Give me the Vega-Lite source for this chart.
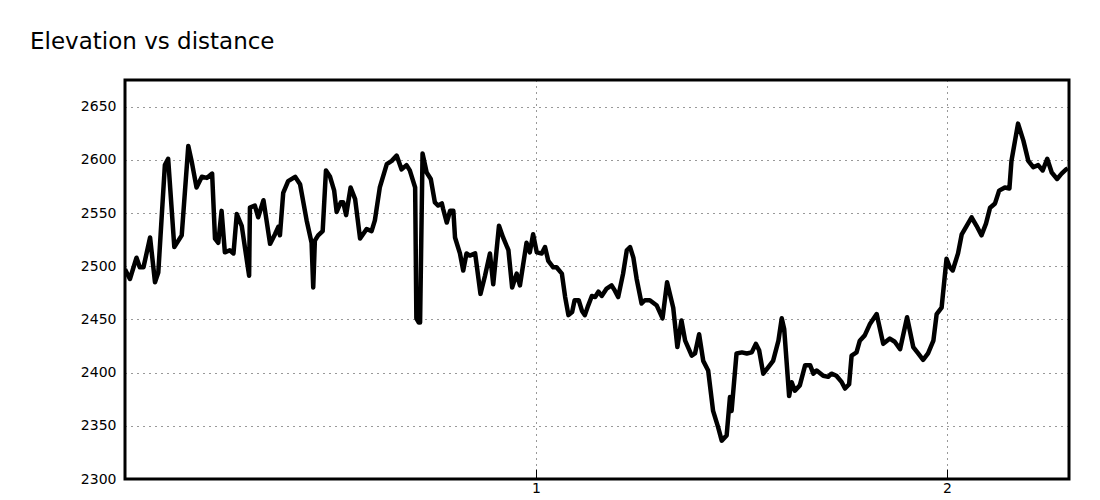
{
  "$schema": "https://vega.github.io/schema/vega-lite/v6.json",
  "autosize": "none",
  "width": 944,
  "height": 399,
  "padding": {"left": 125, "top": 80, "right": 31, "bottom": 21},
  "background": "white",
  "title": {
    "text": "Elevation vs distance",
    "anchor": "start",
    "frame": "group",
    "dx": -95,
    "offset": 8,
    "baseline": "alphabetic",
    "font": "DejaVu Sans",
    "fontSize": 23,
    "fontWeight": "normal",
    "color": "#000"
  },
  "config": {
    "view": {"stroke": "#000", "strokeWidth": 3},
    "axis": {
      "labelFont": "DejaVu Sans",
      "labelFontSize": 14,
      "labelColor": "#000",
      "domain": false,
      "gridColor": "#000",
      "gridDash": [1, 5],
      "gridWidth": 1,
      "gridOpacity": 0.8,
      "title": null
    }
  },
  "data": {
    "values": [
      {"d": 0.000, "e": 2497}, {"d": 0.012, "e": 2488}, {"d": 0.028, "e": 2508}, {"d": 0.036, "e": 2499},
      {"d": 0.045, "e": 2499}, {"d": 0.061, "e": 2527}, {"d": 0.073, "e": 2485}, {"d": 0.081, "e": 2494},
      {"d": 0.097, "e": 2595}, {"d": 0.105, "e": 2601}, {"d": 0.120, "e": 2518}, {"d": 0.138, "e": 2529},
      {"d": 0.154, "e": 2613}, {"d": 0.162, "e": 2599}, {"d": 0.174, "e": 2574}, {"d": 0.187, "e": 2584},
      {"d": 0.199, "e": 2583}, {"d": 0.212, "e": 2587}, {"d": 0.219, "e": 2526}, {"d": 0.227, "e": 2522},
      {"d": 0.235, "e": 2552}, {"d": 0.243, "e": 2513}, {"d": 0.255, "e": 2515}, {"d": 0.264, "e": 2512},
      {"d": 0.272, "e": 2549}, {"d": 0.284, "e": 2538}, {"d": 0.302, "e": 2491}, {"d": 0.304, "e": 2555},
      {"d": 0.316, "e": 2557}, {"d": 0.324, "e": 2546}, {"d": 0.337, "e": 2562}, {"d": 0.353, "e": 2521},
      {"d": 0.365, "e": 2530}, {"d": 0.373, "e": 2537}, {"d": 0.377, "e": 2529}, {"d": 0.385, "e": 2569},
      {"d": 0.397, "e": 2580}, {"d": 0.414, "e": 2584}, {"d": 0.426, "e": 2577}, {"d": 0.442, "e": 2543},
      {"d": 0.454, "e": 2522}, {"d": 0.458, "e": 2480}, {"d": 0.462, "e": 2524}, {"d": 0.470, "e": 2529},
      {"d": 0.481, "e": 2533}, {"d": 0.489, "e": 2590}, {"d": 0.499, "e": 2584}, {"d": 0.509, "e": 2571},
      {"d": 0.515, "e": 2551}, {"d": 0.525, "e": 2560}, {"d": 0.531, "e": 2560}, {"d": 0.538, "e": 2548},
      {"d": 0.549, "e": 2574}, {"d": 0.560, "e": 2563}, {"d": 0.572, "e": 2526}, {"d": 0.588, "e": 2535},
      {"d": 0.600, "e": 2533}, {"d": 0.608, "e": 2543}, {"d": 0.620, "e": 2574}, {"d": 0.637, "e": 2596},
      {"d": 0.649, "e": 2599}, {"d": 0.661, "e": 2604}, {"d": 0.673, "e": 2591}, {"d": 0.685, "e": 2595},
      {"d": 0.693, "e": 2590}, {"d": 0.706, "e": 2574}, {"d": 0.709, "e": 2451}, {"d": 0.715, "e": 2447},
      {"d": 0.718, "e": 2447}, {"d": 0.724, "e": 2606}, {"d": 0.734, "e": 2588}, {"d": 0.744, "e": 2582},
      {"d": 0.754, "e": 2560}, {"d": 0.762, "e": 2557}, {"d": 0.771, "e": 2559}, {"d": 0.774, "e": 2554},
      {"d": 0.783, "e": 2541}, {"d": 0.791, "e": 2552}, {"d": 0.799, "e": 2552}, {"d": 0.803, "e": 2527},
      {"d": 0.815, "e": 2512}, {"d": 0.823, "e": 2496}, {"d": 0.831, "e": 2512}, {"d": 0.839, "e": 2510},
      {"d": 0.852, "e": 2512}, {"d": 0.865, "e": 2474}, {"d": 0.876, "e": 2491}, {"d": 0.888, "e": 2512},
      {"d": 0.896, "e": 2483}, {"d": 0.910, "e": 2538}, {"d": 0.920, "e": 2527}, {"d": 0.933, "e": 2515},
      {"d": 0.942, "e": 2480}, {"d": 0.953, "e": 2493}, {"d": 0.961, "e": 2482}, {"d": 0.977, "e": 2522},
      {"d": 0.985, "e": 2513}, {"d": 0.993, "e": 2530}, {"d": 1.002, "e": 2513}, {"d": 1.014, "e": 2512},
      {"d": 1.022, "e": 2518}, {"d": 1.030, "e": 2505}, {"d": 1.042, "e": 2499}, {"d": 1.050, "e": 2499},
      {"d": 1.063, "e": 2493}, {"d": 1.071, "e": 2471}, {"d": 1.079, "e": 2454}, {"d": 1.088, "e": 2457},
      {"d": 1.094, "e": 2468}, {"d": 1.104, "e": 2468}, {"d": 1.112, "e": 2458}, {"d": 1.119, "e": 2454},
      {"d": 1.127, "e": 2463}, {"d": 1.136, "e": 2472}, {"d": 1.144, "e": 2471}, {"d": 1.152, "e": 2476},
      {"d": 1.160, "e": 2472}, {"d": 1.172, "e": 2479}, {"d": 1.184, "e": 2482}, {"d": 1.192, "e": 2477},
      {"d": 1.200, "e": 2471}, {"d": 1.212, "e": 2493}, {"d": 1.221, "e": 2515}, {"d": 1.229, "e": 2518},
      {"d": 1.237, "e": 2508}, {"d": 1.245, "e": 2488}, {"d": 1.257, "e": 2465}, {"d": 1.265, "e": 2468},
      {"d": 1.277, "e": 2468}, {"d": 1.294, "e": 2463}, {"d": 1.308, "e": 2451}, {"d": 1.319, "e": 2485},
      {"d": 1.334, "e": 2461}, {"d": 1.344, "e": 2424}, {"d": 1.354, "e": 2449}, {"d": 1.363, "e": 2430},
      {"d": 1.379, "e": 2416}, {"d": 1.387, "e": 2418}, {"d": 1.397, "e": 2436}, {"d": 1.407, "e": 2411},
      {"d": 1.419, "e": 2402}, {"d": 1.431, "e": 2364}, {"d": 1.443, "e": 2349}, {"d": 1.452, "e": 2336},
      {"d": 1.464, "e": 2341}, {"d": 1.472, "e": 2377}, {"d": 1.476, "e": 2364}, {"d": 1.488, "e": 2418},
      {"d": 1.501, "e": 2419}, {"d": 1.513, "e": 2418}, {"d": 1.525, "e": 2419}, {"d": 1.535, "e": 2427},
      {"d": 1.543, "e": 2421}, {"d": 1.553, "e": 2399}, {"d": 1.565, "e": 2405}, {"d": 1.577, "e": 2411},
      {"d": 1.590, "e": 2430}, {"d": 1.598, "e": 2451}, {"d": 1.604, "e": 2441}, {"d": 1.616, "e": 2378},
      {"d": 1.622, "e": 2391}, {"d": 1.630, "e": 2383}, {"d": 1.642, "e": 2388}, {"d": 1.655, "e": 2407},
      {"d": 1.667, "e": 2407}, {"d": 1.675, "e": 2399}, {"d": 1.683, "e": 2402}, {"d": 1.699, "e": 2397},
      {"d": 1.711, "e": 2396}, {"d": 1.719, "e": 2399}, {"d": 1.731, "e": 2397}, {"d": 1.744, "e": 2391},
      {"d": 1.752, "e": 2385}, {"d": 1.762, "e": 2389}, {"d": 1.768, "e": 2416}, {"d": 1.780, "e": 2419},
      {"d": 1.788, "e": 2430}, {"d": 1.800, "e": 2435}, {"d": 1.813, "e": 2446}, {"d": 1.829, "e": 2455},
      {"d": 1.845, "e": 2427}, {"d": 1.861, "e": 2432}, {"d": 1.873, "e": 2429}, {"d": 1.886, "e": 2422},
      {"d": 1.903, "e": 2452}, {"d": 1.918, "e": 2424}, {"d": 1.930, "e": 2418}, {"d": 1.942, "e": 2412},
      {"d": 1.954, "e": 2418}, {"d": 1.967, "e": 2430}, {"d": 1.975, "e": 2455}, {"d": 1.987, "e": 2461},
      {"d": 1.999, "e": 2507}, {"d": 2.007, "e": 2499}, {"d": 2.014, "e": 2496}, {"d": 2.027, "e": 2512},
      {"d": 2.036, "e": 2530}, {"d": 2.048, "e": 2538}, {"d": 2.060, "e": 2546}, {"d": 2.072, "e": 2538},
      {"d": 2.084, "e": 2529}, {"d": 2.095, "e": 2540}, {"d": 2.105, "e": 2555}, {"d": 2.117, "e": 2559},
      {"d": 2.127, "e": 2571}, {"d": 2.141, "e": 2574}, {"d": 2.152, "e": 2573}, {"d": 2.157, "e": 2599},
      {"d": 2.173, "e": 2634}, {"d": 2.186, "e": 2618}, {"d": 2.198, "e": 2599}, {"d": 2.210, "e": 2593},
      {"d": 2.222, "e": 2595}, {"d": 2.233, "e": 2590}, {"d": 2.244, "e": 2601}, {"d": 2.255, "e": 2588},
      {"d": 2.268, "e": 2582}, {"d": 2.279, "e": 2587}, {"d": 2.290, "e": 2591}, {"d": 2.294, "e": 2592}
    ]
  },
  "mark": {"type": "line", "color": "#000", "strokeWidth": 4.5, "strokeJoin": "round", "clip": true},
  "encoding": {
    "x": {
      "field": "d",
      "type": "quantitative",
      "scale": {"domain": [0, 2.297], "nice": false, "zero": false},
      "axis": {
        "values": [1, 2],
        "format": "d",
        "tickSize": -10,
        "tickColor": "#000",
        "tickWidth": 1,
        "labelPadding": 12
      }
    },
    "y": {
      "field": "e",
      "type": "quantitative",
      "scale": {"domain": [2300, 2675], "nice": false, "zero": false},
      "axis": {
        "values": [2300, 2350, 2400, 2450, 2500, 2550, 2600, 2650],
        "format": "d",
        "ticks": false,
        "labelPadding": 9
      }
    }
  }
}
